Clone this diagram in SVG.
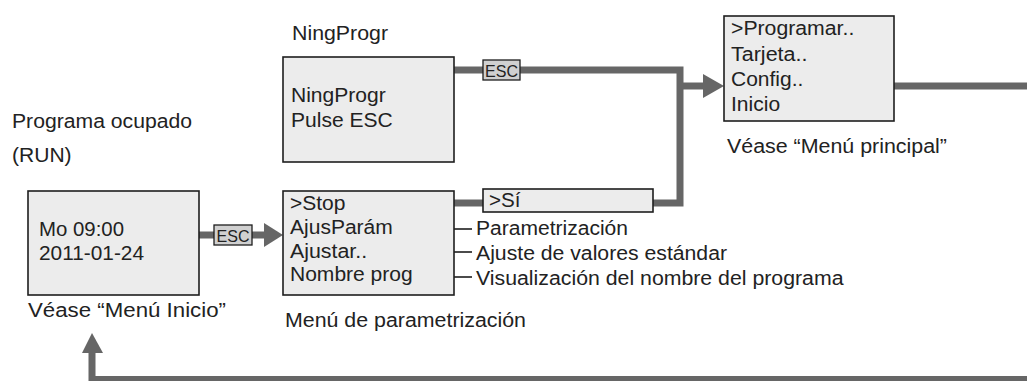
<svg xmlns="http://www.w3.org/2000/svg" width="1027" height="381" viewBox="0 0 1027 381">
<style>
.t{font-family:"Liberation Sans",Arial,Helvetica,sans-serif;font-size:19.5px;fill:#222}
.k{font-family:"Liberation Sans",Arial,Helvetica,sans-serif;font-size:17px;fill:#222}
.box{fill:#ececec;stroke:#1e1e1e;stroke-width:1.6}
.esc{fill:#d0d0d0;stroke:#1e1e1e;stroke-width:1.3}
.c{fill:none;stroke:#666;stroke-width:7;stroke-linejoin:miter}
.ah{fill:#666}
.tick{stroke:#1e1e1e;stroke-width:1.6}
</style>
<rect width="1027" height="381" fill="#fff"/>
<g id="connectors">
  <path class="c" d="M199,235 H265"/>
  <polygon class="ah" points="264,223 283,235 264,247"/>
  <path class="c" d="M454,70 H680 V203 H653"/>
  <path class="c" d="M454,203 H484"/>
  <path class="c" d="M680,86 H704"/>
  <polygon class="ah" points="703,74 724,86 703,98"/>
  <path class="c" d="M894,86 H1027"/>
  <path class="c" d="M1027,379.5 H92 V352"/>
  <polygon class="ah" points="82,353 92,333 103,353"/>
  <line class="tick" x1="454" y1="229" x2="472" y2="229"/>
  <line class="tick" x1="454" y1="252" x2="472" y2="252"/>
  <line class="tick" x1="454" y1="277" x2="472" y2="277"/>
  <g id="esc-top">
    <rect class="esc" x="483" y="60" width="37" height="20"/>
    <text class="k" x="485" y="76.5" textLength="33" lengthAdjust="spacingAndGlyphs">ESC</text>
  </g>
  <g id="esc-left">
    <rect class="esc" x="214" y="225" width="38" height="20"/>
    <text class="k" x="216.5" y="241.5" textLength="33" lengthAdjust="spacingAndGlyphs">ESC</text>
  </g>
</g>
<g id="label-run">
  <text class="t" x="12" y="127.5" textLength="180" lengthAdjust="spacingAndGlyphs">Programa ocupado</text>
  <text class="t" x="12" y="161.5" textLength="59.6" lengthAdjust="spacingAndGlyphs">(RUN)</text>
</g>
<g id="node-start">
  <rect class="box" x="28" y="191" width="171" height="104"/>
  <text class="t" x="39" y="236" textLength="85" lengthAdjust="spacingAndGlyphs">Mo 09:00</text>
  <text class="t" x="39" y="260" textLength="105" lengthAdjust="spacingAndGlyphs">2011-01-24</text>
  <text class="t" x="28" y="316.5" textLength="198" lengthAdjust="spacingAndGlyphs">Véase “Menú Inicio”</text>
</g>
<g id="node-ningprogr">
  <text class="t" x="292" y="40" textLength="96" lengthAdjust="spacingAndGlyphs">NingProgr</text>
  <rect class="box" x="283" y="57" width="171" height="105"/>
  <text class="t" x="291" y="101.5" textLength="94.7" lengthAdjust="spacingAndGlyphs">NingProgr</text>
  <text class="t" x="291" y="126.5" textLength="101.7" lengthAdjust="spacingAndGlyphs">Pulse ESC</text>
</g>
<g id="node-param">
  <rect class="box" x="283" y="191" width="171" height="104"/>
  <text class="t" x="290" y="210" textLength="55.5" lengthAdjust="spacingAndGlyphs">&gt;Stop</text>
  <text class="t" x="290" y="234" textLength="102.8" lengthAdjust="spacingAndGlyphs">AjusParám</text>
  <text class="t" x="290" y="257.5" textLength="77.1" lengthAdjust="spacingAndGlyphs">Ajustar..</text>
  <text class="t" x="290" y="281" textLength="122.7" lengthAdjust="spacingAndGlyphs">Nombre prog</text>
  <text class="t" x="285" y="326.5" textLength="241" lengthAdjust="spacingAndGlyphs">Menú de parametrización</text>
</g>
<g id="node-si">
  <rect class="box" x="483" y="189" width="170" height="23"/>
  <text class="t" x="489" y="207" textLength="31.5" lengthAdjust="spacingAndGlyphs">&gt;Sí</text>
</g>
<g id="descriptions">
  <text class="t" x="476" y="235" textLength="152" lengthAdjust="spacingAndGlyphs">Parametrización</text>
  <text class="t" x="476" y="259.5" textLength="251" lengthAdjust="spacingAndGlyphs">Ajuste de valores estándar</text>
  <text class="t" x="476" y="284.5" textLength="367.5" lengthAdjust="spacingAndGlyphs">Visualización del nombre del programa</text>
</g>
<g id="node-main">
  <rect class="box" x="724" y="16" width="170" height="105"/>
  <text class="t" x="731" y="35" textLength="123.3" lengthAdjust="spacingAndGlyphs">&gt;Programar..</text>
  <text class="t" x="731" y="60.5" textLength="76.5" lengthAdjust="spacingAndGlyphs">Tarjeta..</text>
  <text class="t" x="731" y="85.5" textLength="72.3" lengthAdjust="spacingAndGlyphs">Config..</text>
  <text class="t" x="731" y="110.5" textLength="49.1" lengthAdjust="spacingAndGlyphs">Inicio</text>
  <text class="t" x="727" y="153" textLength="220" lengthAdjust="spacingAndGlyphs">Véase “Menú principal”</text>
</g>
</svg>
